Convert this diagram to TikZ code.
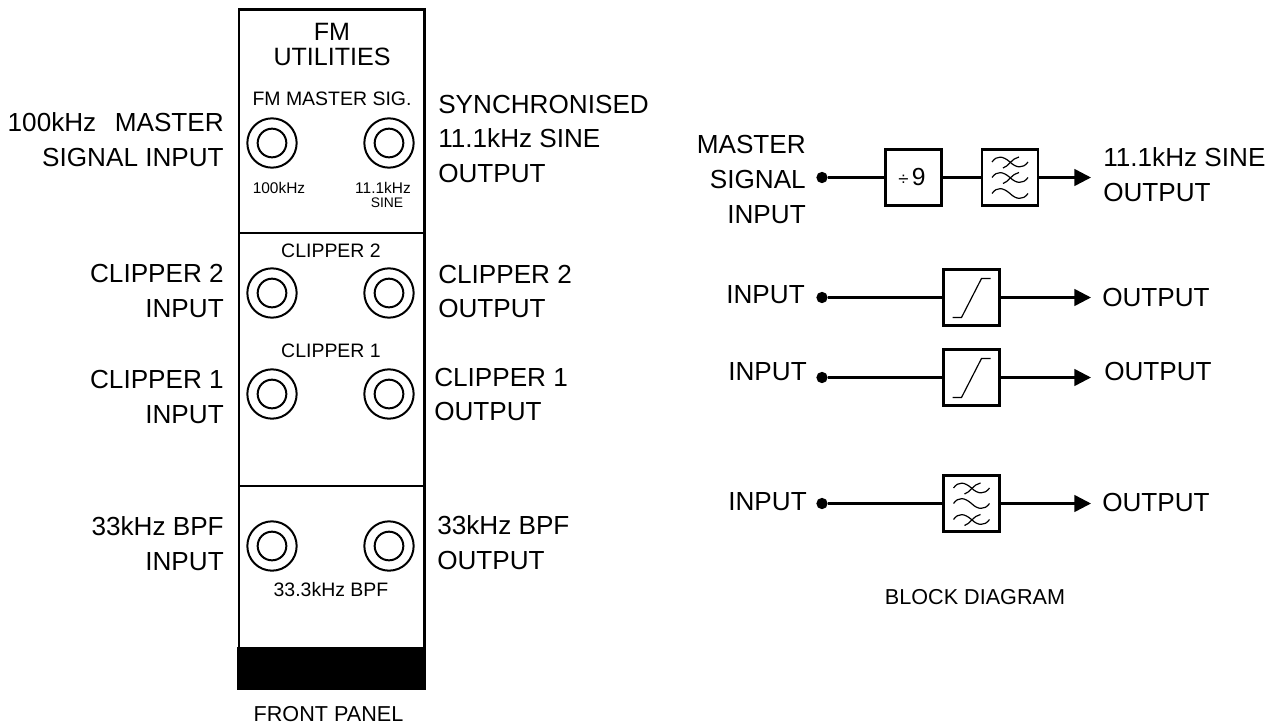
\documentclass[tikz,border=0pt]{standalone}
\usepackage{fontspec}
\setmainfont{Liberation Sans}
\usetikzlibrary{arrows.meta}
\tikzset{
  x=0.75pt,y=-0.75pt,
  lab/.style={inner sep=0pt,font=\fontsize{19.6pt}{26.2pt}\selectfont},
  labl/.style={lab,anchor=west,align=left},
  labr/.style={lab,anchor=east,align=right},
  captext/.style={inner sep=0pt,font=\fontsize{16.2pt}{18pt}\selectfont},
  ptitle/.style={inner sep=0pt,align=center,font=\fontsize{18.8pt}{21pt}\selectfont},
  pmid/.style={inner sep=0pt,font=\fontsize{14.6pt}{17pt}\selectfont},
  psmall/.style={inner sep=0pt,font=\fontsize{11.6pt}{13pt}\selectfont},
  ptiny/.style={inner sep=0pt,font=\fontsize{10.4pt}{12pt}\selectfont},
  panel/.style={draw,line width=2.2pt},
  panelline/.style={line width=2.2pt},
  outerjack/.style={circle,draw,line width=1.5pt,minimum size=37pt,inner sep=0pt},
  innerjack/.style={circle,draw,line width=1.5pt,minimum size=21.5pt,inner sep=0pt},
  blockbox/.style={draw,line width=1.9pt,minimum width=42pt,minimum height=42pt,inner sep=0pt,fill=white},
  termdot/.style={circle,fill=black,minimum size=8.5pt,inner sep=0pt},
  wire/.style={line width=1.9pt},
  outwire/.style={wire,-{Triangle[length=12.5pt,width=12.5pt]}},
  wavestroke/.style={line width=0.9pt},
  plainwave/.pic={\draw[wavestroke] (-18,0) .. controls (-13,-7) and (-7,-6) .. (0,0) .. controls (6,6) and (13,7) .. (18,0);},
  crosswave/.pic={\draw[wavestroke] (-18,0) .. controls (-13,-7) and (-7,-6) .. (0,0) .. controls (6,6) and (13,7) .. (18,0);
    \draw[wavestroke] (-7,6) .. controls (-2,5) and (2,-4) .. (9,-5);},
  limiter/.pic={\draw[line width=0.9pt] (-19,20) -- (-10,20) -- (10,-19) -- (19,-19);},
}
\begin{document}
\begin{tikzpicture}
\useasboundingbox (0,0) rectangle (1279,725);
% front panel
\node[panel,anchor=north west,minimum width=139pt,minimum height=509.5pt,inner sep=0pt] (panelbox) at (237.5,8) {};
\fill (237,647) rectangle (425,690);
\coordinate (divAl) at (238,233); \coordinate (divAr) at (424,233);
\coordinate (divBl) at (238,486); \coordinate (divBr) at (424,486);
\draw[panelline] (divAl) -- (divAr);
\draw[panelline] (divBl) -- (divBr);
\node[ptitle] (title) at (332,44.5) {FM\\[-2.5pt]UTILITIES};
\node[pmid] (msig) at (332,99) {FM MASTER SIG.};
\node[psmall] (t100) at (279,188) {100kHz};
\node[psmall] (t111) at (383,188) {11.1kHz};
\node[ptiny] (tsine) at (387,203) {SINE};
\node[pmid] (tc2) at (331,251) {CLIPPER 2};
\node[pmid] (tc1) at (331,351) {CLIPPER 1};
\node[pmid] (tbpf) at (331,590) {33.3kHz BPF};
\foreach \n/\y in {a/143,b/293,c/394,d/546}{
  \node[outerjack] (j\n l) at (272,\y) {};
  \node[innerjack] (i\n l) at (272,\y) {};
  \node[outerjack] (j\n r) at (389,\y) {};
  \node[innerjack] (i\n r) at (389,\y) {};
}
% panel labels
\node[labr] (l1) at (224,139.5) {100kHz\ \ \hspace{3pt}MASTER\\SIGNAL INPUT};
\node[labl] (r1) at (438,139) {SYNCHRONISED\\11.1kHz SINE\\OUTPUT};
\node[labr] (l2) at (224,291) {CLIPPER 2\\INPUT};
\node[labl] (r2) at (438,291.5) {CLIPPER 2\\OUTPUT};
\node[labr] (l3) at (224,397) {CLIPPER 1\\INPUT};
\node[labl] (r3) at (434,394.5) {CLIPPER 1\\OUTPUT};
\node[labr] (l4) at (224,544) {33kHz BPF\\INPUT};
\node[labl] (r4) at (437,542.5) {33kHz BPF\\OUTPUT};
\node[captext] (fp) at (328.5,714) {FRONT PANEL};
% block diagram
\node[labr] (bi1) at (806,179.5) {MASTER\\SIGNAL\\INPUT};
\node[labl] (bo1) at (1103,175) {11.1kHz SINE\\OUTPUT};
\node[termdot] (d1) at (822,177.5) {};
\node[blockbox] (div) at (913.5,177.5) {};
\node[font=\fontsize{14pt}{16pt}\selectfont,inner sep=0pt] (divt) at (912,177.5) {÷\,{\fontsize{18.5pt}{20pt}\selectfont 9}};
\node[blockbox] (f1) at (1010,177.5) {};
\pic at (1010,162) {crosswave};
\pic at (1010,177.5) {crosswave};
\pic at (1010,193.5) {plainwave};
\coordinate (e1) at (1091,177.5);
\draw[wire] (d1) -- (div);
\draw[wire] (div) -- (f1);
\draw[outwire] (f1) -- (e1);

\node[labr] (bi2) at (805,295) {INPUT};
\node[labl] (bo2) at (1102,297) {OUTPUT};
\node[termdot] (d2) at (822,297.5) {};
\node[blockbox] (c2) at (971.5,297.5) {};
\pic at (971.5,297.5) {limiter};
\coordinate (e2) at (1091,297.5);
\draw[wire] (d2) -- (c2);
\draw[outwire] (c2) -- (e2);

\node[labr] (bi3) at (807,372) {INPUT};
\node[labl] (bo3) at (1104,371) {OUTPUT};
\node[termdot] (d3) at (822,377.5) {};
\node[blockbox] (c1) at (971.5,377.5) {};
\pic at (971.5,377.5) {limiter};
\coordinate (e3) at (1091,377.5);
\draw[wire] (d3) -- (c1);
\draw[outwire] (c1) -- (e3);

\node[labr] (bi4) at (807,502) {INPUT};
\node[labl] (bo4) at (1102,502) {OUTPUT};
\node[termdot] (d4) at (822,503.5) {};
\node[blockbox] (f2) at (971.5,503.5) {};
\pic at (971.5,488) {crosswave};
\pic at (971.5,503.5) {plainwave};
\pic at (971.5,519.5) {crosswave};
\coordinate (e4) at (1091,503.5);
\draw[wire] (d4) -- (f2);
\draw[outwire] (f2) -- (e4);
\node[captext] (bd) at (975,597) {BLOCK DIAGRAM};
\end{tikzpicture}
\end{document}
